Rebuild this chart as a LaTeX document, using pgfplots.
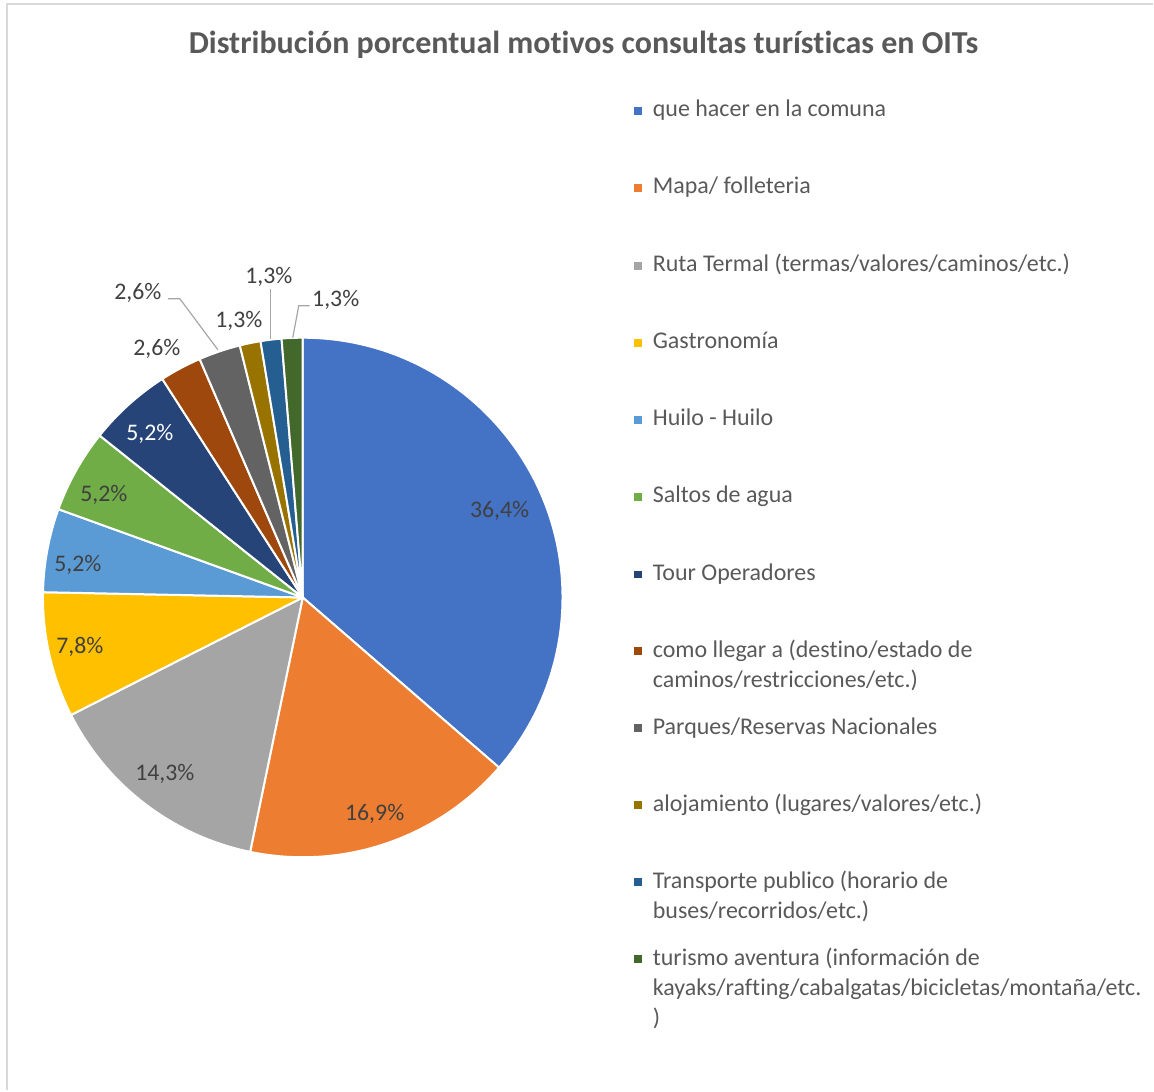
\documentclass[border=0pt]{standalone}
\usepackage{pgfplots}
\pgfplotsset{compat=1.18}
\usepackage{pgfplotstable}
\usepackage{fontspec}
\setmainfont{Carlito}[Ligatures=NoCommon]
\definecolor{slice0}{HTML}{4472C4}
\definecolor{slice1}{HTML}{ED7D31}
\definecolor{slice2}{HTML}{A5A5A5}
\definecolor{slice3}{HTML}{FFC000}
\definecolor{slice4}{HTML}{5B9BD5}
\definecolor{slice5}{HTML}{70AD47}
\definecolor{slice6}{HTML}{264478}
\definecolor{slice7}{HTML}{9E480E}
\definecolor{slice8}{HTML}{636363}
\definecolor{slice9}{HTML}{997300}
\definecolor{slice10}{HTML}{255E91}
\definecolor{slice11}{HTML}{43682B}
\definecolor{lbl0}{HTML}{404040}
\definecolor{lbl1}{HTML}{FFFFFF}
\definecolor{leg}{HTML}{595959}
\definecolor{frame}{HTML}{D9D9D9}
\definecolor{leader}{HTML}{A6A6A6}
\newcommand\lblfont{\fontsize{11.9pt}{14pt}\selectfont}
\newcommand\legfont{\fontsize{12pt}{14pt}\selectfont}
% count = number of consultations (of 77); lx, ly = label position (px); tc = label colour
\pgfplotstableread{
count lx ly tc
28 500 511 0
13 375 815 0
11 165 775 0
6 80 647 0
4 78 565 0
4 104 495 0
4 150 434 1
2 157 349 0
2 138 293 0
1 239 321 0
1 269 277 0
1 336 300 0
}\piedata
\newcommand\legrow[3]{% baseline px, colour, text
  \fill[#2] (axis cs:635,{1091-(#1-10)}) rectangle (axis cs:643,{1091-(#1-2)});
  \node[anchor=base west,text=leg,font=\legfont,inner sep=0pt] at (axis cs:653,{1091-#1}) {#3};}
\newcommand\legline[2]{%
  \node[anchor=base west,text=leg,font=\legfont,inner sep=0pt] at (axis cs:653,{1091-#1}) {#2};}
\begin{document}
\begin{tikzpicture}
\begin{axis}[x=0.5pt,y=0.5pt,xmin=0,xmax=1154,ymin=0,ymax=1091,
  hide axis,clip=false,scale only axis]
\path (axis cs:0,0) rectangle (axis cs:1154,1091);
\draw[frame,line width=1pt] (axis cs:7,0) -- (axis cs:7,1087) -- (axis cs:1154,1087);
\node[text=leg,font=\bfseries\fontsize{16pt}{18pt}\selectfont] at (axis cs:584,{1091-45}) {Distribución porcentual motivos consultas turísticas en OITs};
\pgfplotstablegetrowsof{\piedata}\pgfmathtruncatemacro\lastrow{\pgfplotsretval-1}
\def\total{0}
\pgfplotsforeachungrouped \i in {0,...,\lastrow}{%
  \pgfplotstablegetelem{\i}{count}\of\piedata
  \pgfmathsetmacro\total{\total+\pgfplotsretval}}
\def\cum{0}
\pgfplotsforeachungrouped \i in {0,...,\lastrow}{%
  \pgfplotstablegetelem{\i}{count}\of\piedata \let\cnt\pgfplotsretval
  \pgfplotstablegetelem{\i}{lx}\of\piedata \let\lx\pgfplotsretval
  \pgfplotstablegetelem{\i}{ly}\of\piedata \let\ly\pgfplotsretval
  \pgfplotstablegetelem{\i}{tc}\of\piedata \let\tc\pgfplotsretval
  \pgfmathsetmacro\astart{90-(\cum/\total)*360}
  \pgfmathsetmacro\cum{\cum+\cnt}
  \pgfmathsetmacro\aend{90-(\cum/\total)*360}
  \pgfmathsetmacro\lyy{1091-\ly}
  \pgfmathparse{(\cnt/\total)*100}
  \pgfmathprintnumberto[fixed,fixed zerofill,precision=1,use comma,assume math mode=true]{\pgfmathresult}{\pct}
  \edef\temp{\noexpand\filldraw[fill=slice\i,draw=white,line width=1pt,line join=round]
     (axis cs:303,493) -- ++(\astart:130pt) arc[start angle=\astart,end angle=\aend,radius=130pt] -- cycle;
   \noexpand\node[text=lbl\tc,font=\noexpand\lblfont] at (axis cs:\lx,\lyy) {\unexpanded\expandafter{\pct}\noexpand\%};}%
  \temp
}
% leader lines
\draw[leader,line width=0.6pt] (axis cs:168,{1091-299}) -- (axis cs:180,{1091-299}) -- (axis cs:218,{1091-350});
\draw[leader,line width=0.6pt] (axis cs:271,{1091-289}) -- (axis cs:271,{1091-339});
\draw[leader,line width=0.6pt] (axis cs:310,{1091-306}) -- (axis cs:299,{1091-306}) -- (axis cs:293,{1091-338});
% legend
\legrow{117}{slice0}{que hacer en la comuna}
\legrow{194}{slice1}{Mapa/ folleteria}
\legrow{272}{slice2}{Ruta Termal (termas/valores/caminos/etc.)}
\legrow{349}{slice3}{Gastronomía}
\legrow{426}{slice4}{Huilo - Huilo}
\legrow{503}{slice5}{Saltos de agua}
\legrow{581}{slice6}{Tour Operadores}
\legrow{658}{slice7}{como llegar a (destino/estado de}
\legline{688}{caminos/restricciones/etc.)}
\legrow{735}{slice8}{Parques/Reservas Nacionales}
\legrow{812}{slice9}{alojamiento (lugares/valores/etc.)}
\legrow{889}{slice10}{Transporte publico (horario de}
\legline{919}{buses/recorridos/etc.)}
\legrow{966}{slice11}{turismo aventura (información de}
\legline{996}{kayaks/rafting/cabalgatas/bicicletas/montaña/etc.}
\legline{1026}{)}
\end{axis}
\end{tikzpicture}
\end{document}
